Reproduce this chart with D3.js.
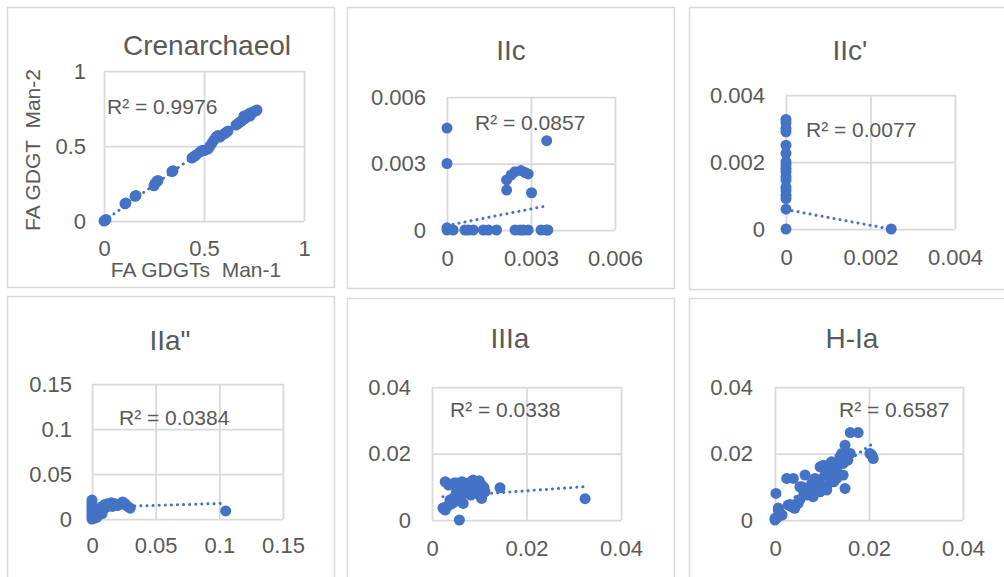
<!DOCTYPE html>
<html>
<head>
<meta charset="utf-8">
<script src="https://cdn.jsdelivr.net/npm/d3@7"></script>
<style>
  body { margin: 0; background: #fff; }
  svg text { font-family: "Liberation Sans", Arial, sans-serif; fill: #595959; }
</style>
</head>
<body>
<div id="chart"></div>
<script>
// ---- data: [Man-1, Man-2] per compound ----
const crenarchaeol = [
    [0, 0], [0.005, 0.005], [0.01, 0.01], [0.105, 0.115], [0.11, 0.12], [0.155, 0.165], [0.16, 0.17],
    [0.25, 0.235], [0.255, 0.25], [0.265, 0.265], [0.27, 0.27], [0.34, 0.33], [0.345, 0.335],
    [0.44, 0.42], [0.45, 0.43], [0.46, 0.44], [0.48, 0.46], [0.49, 0.47], [0.5, 0.47], [0.52, 0.48],
    [0.53, 0.5], [0.54, 0.52], [0.55, 0.54], [0.56, 0.56], [0.57, 0.57], [0.58, 0.56], [0.6, 0.58],
    [0.61, 0.59], [0.62, 0.6], [0.66, 0.64], [0.67, 0.65], [0.68, 0.66], [0.69, 0.67], [0.7, 0.68],
    [0.7, 0.7], [0.71, 0.69], [0.72, 0.71], [0.73, 0.7], [0.73, 0.72], [0.74, 0.72], [0.75, 0.73],
    [0.76, 0.735], [0.765, 0.74]
];
const iic = [
    [0, 0.0046], [0, 0.003], [0.00356, 0.00403],
    [0.00213, 0.0018], [0.00213, 0.00226], [0.00229, 0.00248], [0.00243, 0.00263], [0.00264, 0.00268],
    [0.00279, 0.00259], [0.0029, 0.00253], [0.00302, 0.00168],
    [0, 0], [0, 0.0001], [0.00022, 0], [0.00064, 0], [0.00076, 0], [0.00094, 0], [0.0013, 0], [0.00148, 0],
    [0.00177, 0], [0.00243, 0], [0.00261, 0], [0.00273, 0], [0.0029, 0], [0.00336, 0], [0.00356, 0], [0.0036, 0]
];
const iicPrime = [
    [0, 0.00327], [0, 0.00317], [0, 0.003], [0, 0.0029], [0, 0.0025], [0, 0.00226], [0, 0.00201],
    [0, 0.00191], [0, 0.00181], [0, 0.00171], [0, 0.00156], [0, 0.00146], [0, 0.00124], [0, 0.00114],
    [0, 0.00101], [0, 0.00091], [0, 0.00059], [0, 0], [0.00249, 0]
];
const iiaDouble = [
    [0, 0], [0, 0.003], [0, 0.006], [0, 0.009], [0, 0.012], [0, 0.015], [0, 0.018], [0, 0.021],
    [0.001, 0.002], [0.002, 0.005], [0.003, 0.004], [0.004, 0.008], [0.005, 0.006], [0.006, 0.011],
    [0.007, 0.009], [0.008, 0.014], [0.009, 0.012], [0.01, 0.016], [0.011, 0.013], [0.012, 0.017],
    [0.013, 0.015], [0.015, 0.018], [0.016, 0.014], [0.018, 0.017], [0.02, 0.015], [0.022, 0.016],
    [0.024, 0.019], [0.026, 0.017], [0.028, 0.014], [0.03, 0.012], [0.002, 0.001], [0.004, 0.002],
    [0.008, 0.006], [0.105, 0.009]
];
const iiia = [
    [0.0023, 0.0036], [0.0028, 0.003], [0.0033, 0.0042], [0.0038, 0.006], [0.0028, 0.0115], [0.0035, 0.0105],
    [0.0042, 0.0108], [0.0049, 0.0112], [0.0055, 0.0102], [0.0063, 0.0115], [0.007, 0.0108], [0.0078, 0.0112],
    [0.0087, 0.012], [0.0094, 0.0112], [0.01, 0.0118], [0.0105, 0.0105], [0.011, 0.0098], [0.0105, 0.0065],
    [0.0098, 0.0078], [0.009, 0.0085], [0.0082, 0.0075], [0.0075, 0.009], [0.0068, 0.008], [0.006, 0.0068],
    [0.0055, 0.0058], [0.0048, 0.007], [0.0045, 0.0052], [0.004, 0.0048], [0.0062, 0.0092], [0.0072, 0.0098],
    [0.0084, 0.0095], [0.0095, 0.0092], [0.0052, 0.0085], [0.0112, 0.0085], [0.0066, 0.005], [0.0058, 0],
    [0.0144, 0.0097], [0.0324, 0.0064]
];
const hIa = [
    [0, 0], [0, 0.0005], [0.0005, 0.0008], [0.0002, 0.008], [0.001, 0.0022], [0.0007, 0.003], [0.0007, 0.0036],
    [0.0015, 0.0015], [0.0025, 0.0125], [0.0039, 0.0125], [0.0064, 0.0135], [0.0035, 0.004], [0.0032, 0.0045],
    [0.0046, 0.005], [0.0049, 0.005], [0.0053, 0.0062], [0.0053, 0.01], [0.0057, 0.01], [0.006, 0.009],
    [0.0068, 0.0075], [0.0074, 0.008], [0.0078, 0.011], [0.0081, 0.007], [0.0085, 0.0095], [0.0089, 0.0115],
    [0.0096, 0.016], [0.0103, 0.0165], [0.0106, 0.0135], [0.011, 0.01], [0.011, 0.009], [0.0096, 0.0085],
    [0.0092, 0.012], [0.01, 0.0105], [0.0117, 0.0155], [0.012, 0.0175], [0.0124, 0.017], [0.0131, 0.015],
    [0.0131, 0.0125], [0.0138, 0.019], [0.0142, 0.02], [0.0145, 0.017], [0.0149, 0.0225], [0.0145, 0.0135],
    [0.0149, 0.0095], [0.016, 0.0263], [0.0177, 0.0263], [0.016, 0.02], [0.0202, 0.02], [0.0206, 0.0195],
    [0.0209, 0.0185], [0.012, 0.0145], [0.0115, 0.013], [0.0125, 0.0115], [0.0085, 0.0125], [0.007, 0.0095],
    [0.0042, 0.0035], [0.0028, 0.0045], [0.014, 0.0175], [0.0155, 0.018]
];

const titles = ['Crenarchaeol', 'IIc', "IIc'", 'IIa"', 'IIIa', 'H-Ia'];
const series = [crenarchaeol, iic, iicPrime, iiaDouble, iiia, hIa];
const axisMax = [1, 0.006, 0.004, 0.15, 0.04, 0.04];
const tickValues = [
    [0, 0.5, 1], [0, 0.003, 0.006], [0, 0.002, 0.004],
    [0, 0.05, 0.1, 0.15], [0, 0.02, 0.04], [0, 0.02, 0.04]
];
const r2Labels = ['R² = 0.9976', 'R² = 0.0857', 'R² = 0.0077', 'R² = 0.0384', 'R² = 0.0338', 'R² = 0.6587'];
// linear trendlines: [slope, intercept]
const trends = [[0.96, 0], [0.25, 0.0002], [-0.235, 0.00058], [0.042, 0.013], [0.101, 0.00676], [0.97, 0.0028]];

// ---- layout ----
const width = 1004, height = 577;
const blue = '#4472C4', grid = '#d9d9d9';

// frame [x, y, w, h], plot [left, top, right, bottom], title [cx, cy], r2 [x, cy]
const layout = [
    { frame: [7, 7, 327, 280], plot: [104, 71, 304, 221], title: [207, 45], r2: [107, 107], xPad: 20, yPad: 18 },
    { frame: [347, 7, 327, 281], plot: [447, 97, 615, 230], title: [511, 50], r2: [475, 123], xPad: 21, yPad: 21 },
    { frame: [689, 7, 330, 282], plot: [786, 95, 955, 229], title: [850, 50], r2: [806, 130], xPad: 21, yPad: 21 },
    { frame: [7, 296, 327, 300], plot: [92, 384, 283, 519], title: [170, 340], r2: [119, 418], xPad: 19, yPad: 20 },
    { frame: [347, 298, 327, 300], plot: [432, 387, 621, 520], title: [510, 338], r2: [450, 410], xPad: 21, yPad: 21 },
    { frame: [689, 298, 330, 300], plot: [775, 387, 963, 520], title: [852, 338], r2: [839, 410], xPad: 21, yPad: 22 }
];

const svg = d3.select('#chart')
    .append('svg')
    .attr('width', width)
    .attr('height', height)
    .style('display', 'block');

const fmt = d3.format('~g');

series.forEach((data, i) => {
    const L = layout[i];
    const [left, top, right, bottom] = L.plot;

    svg.append('rect')
        .attr('x', L.frame[0] + 0.5).attr('y', L.frame[1] + 0.5)
        .attr('width', L.frame[2]).attr('height', L.frame[3])
        .attr('fill', '#fff').attr('stroke', grid).attr('stroke-width', 1.5);

    const x = d3.scaleLinear().domain([0, axisMax[i]]).range([left, right]);
    const y = d3.scaleLinear().domain([0, axisMax[i]]).range([bottom, top]);

    // grid + labels via axes
    const gx = svg.append('g')
        .attr('transform', `translate(0,${bottom})`)
        .call(d3.axisBottom(x).tickValues(tickValues[i]).tickFormat(fmt)
            .tickSize(-(bottom - top)).tickPadding(L.xPad - 1));
    const gy = svg.append('g')
        .attr('transform', `translate(${left},0)`)
        .call(d3.axisLeft(y).tickValues(tickValues[i]).tickFormat(fmt)
            .tickSize(-(right - left)).tickPadding(L.yPad));

    [gx, gy].forEach(g => {
        g.select('.domain').remove();
        g.selectAll('line').attr('stroke', grid).attr('stroke-width', 1.75);
        g.selectAll('text').attr('fill', '#595959').style('font-size', '22px')
            .style('font-family', '"Liberation Sans", Arial, sans-serif');
    });

    // title
    svg.append('text')
        .attr('x', L.title[0]).attr('y', L.title[1])
        .attr('text-anchor', 'middle').attr('dy', '0.35em')
        .style('font-size', '28px')
        .text(titles[i]);

    // points
    svg.append('g')
        .selectAll('circle')
        .data(data)
        .join('circle')
        .attr('cx', d => x(d[0]))
        .attr('cy', d => y(d[1]))
        .attr('r', 5.5)
        .attr('fill', blue);

    // trendline over the x extent of the data
    const [slope, icpt] = trends[i];
    const xe = d3.extent(data, d => d[0]);
    const line = d3.line().x(d => x(d)).y(d => y(slope * d + icpt));
    svg.append('path')
        .datum(xe)
        .attr('d', line)
        .attr('fill', 'none')
        .attr('stroke', blue)
        .attr('stroke-width', 3)
        .attr('stroke-linecap', 'round')
        .attr('stroke-dasharray', '0.1 6');

    // R² label
    svg.append('text')
        .attr('x', L.r2[0]).attr('y', L.r2[1])
        .attr('dy', '0.35em')
        .style('font-size', '21px')
        .text(r2Labels[i]);
});

// axis titles of the first panel
svg.append('text')
    .attr('x', 196).attr('y', 270)
    .attr('text-anchor', 'middle').attr('dy', '0.35em')
    .style('font-size', '21px').style('white-space', 'pre')
    .text('FA GDGTs  Man-1');

svg.append('text')
    .attr('transform', 'translate(33,150) rotate(-90)')
    .attr('text-anchor', 'middle').attr('dy', '0.35em')
    .style('font-size', '21px').style('white-space', 'pre')
    .text('FA GDGT  Man-2');
</script>
</body>
</html>
